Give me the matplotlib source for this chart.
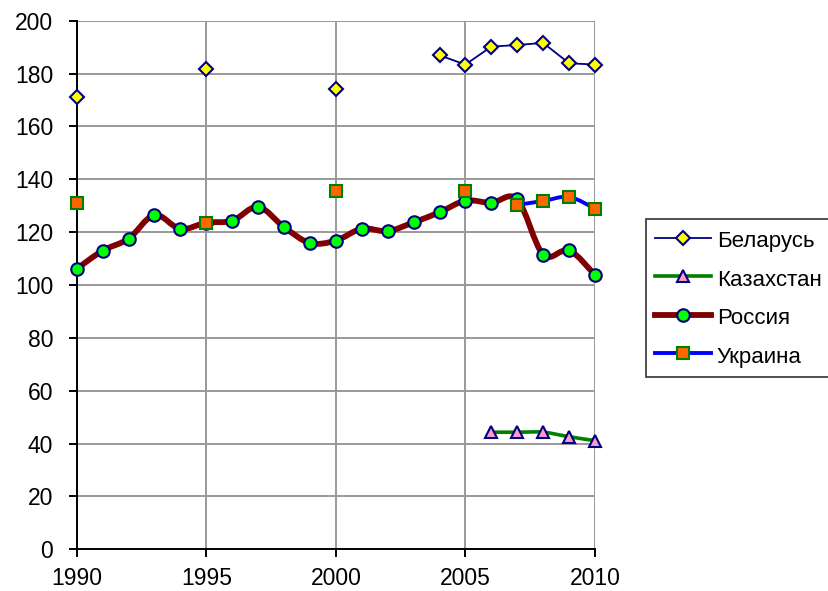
import numpy as np
import matplotlib
matplotlib.use("Agg")
import matplotlib.pyplot as plt
from matplotlib.path import Path
from matplotlib.patches import PathPatch
from matplotlib.lines import Line2D

plt.rcParams['font.family'] = ['Liberation Sans', 'DejaVu Sans']

years = list(range(1990, 2011))
nan = np.nan

belarus = [171.0, nan, nan, nan, nan, 181.6, nan, nan, nan, nan, 174.2,
           nan, nan, nan, 186.9, 183.4, 190.2, 190.8, 191.6, 183.9, 183.4]
kazakhstan = [nan] * 16 + [44.3, 44.3, 44.3, 42.6, 41.1]
russia = [106.1, 113.0, 117.5, 126.5, 121.2, 123.6, 124.3, 129.6, 121.9, 115.9, 116.8,
          121.3, 120.4, 123.7, 127.5, 131.9, 131.1, 132.4, 111.5, 113.1, 103.8]
ukraine = [131.1, nan, nan, nan, nan, 123.6, nan, nan, nan, nan, 135.7,
           nan, nan, nan, nan, 135.7, nan, 130.3, 131.8, 133.3, 128.9]

labels = ['Беларусь', 'Казахстан', 'Россия', 'Украина']
y_ticks = list(range(0, 201, 20))
x_ticks = [1990, 1995, 2000, 2005, 2010]

FS = 16.5
LFS = 16

fig = plt.figure(figsize=(8.29, 5.91), dpi=100)
ax = fig.add_axes([76.7 / 829, 1 - 549.3 / 591, (595 - 76.7) / 829, (549.3 - 20.7) / 591])


def runs(x, y):
    x = np.asarray(x, float)
    y = np.asarray(y, float)
    out, cur = [], []
    for xi, yi in zip(x, y):
        if np.isnan(yi):
            if cur:
                out.append(cur)
            cur = []
        else:
            cur.append((xi, yi))
    if cur:
        out.append(cur)
    return out


def smooth_patch(x, y, color, lw, z):
    for run in runs(x, y):
        if len(run) < 2:
            continue
        P = np.array(run)
        verts = [tuple(P[0])]
        codes = [Path.MOVETO]
        n = len(P)
        for i in range(n - 1):
            p0 = P[i - 1] if i > 0 else P[i]
            p1 = P[i]
            p2 = P[i + 1]
            p3 = P[i + 2] if i + 2 < n else P[i + 1]
            c1 = p1 + (p2 - p0) / 6.0
            c2 = p2 - (p3 - p1) / 6.0
            verts += [tuple(c1), tuple(c2), tuple(p2)]
            codes += [Path.CURVE4] * 3
        ax.add_patch(PathPatch(Path(verts, codes), fill=False, edgecolor=color,
                               lw=lw, zorder=z, capstyle='round', joinstyle='round',
                               clip_on=False))


styles = [
    dict(color='#000080', lw=1.3, marker='D', ms=7.5, mfc='#FFFF00', mec='#000080', smooth=False),
    dict(color='#008000', lw=2.6, marker='^', ms=9, mfc='#FF99CC', mec='#000080', smooth=True),
    dict(color='#800000', lw=4.2, marker='o', ms=9, mfc='#00FF00', mec='#000080', smooth=True),
    dict(color='#0000FF', lw=2.8, marker='s', ms=8.5, mfc='#FF6600', mec='#008000', smooth=True),
]
series = [belarus, kazakhstan, russia, ukraine]

handles = []
for k, (s, st, lab) in enumerate(zip(series, styles, labels)):
    z = 3 + k
    if st['smooth']:
        smooth_patch(years, s, st['color'], st['lw'], z)
    else:
        ax.plot(years, s, color=st['color'], lw=st['lw'], zorder=z, clip_on=False)
    ax.plot(years, s, ls='none', marker=st['marker'], ms=st['ms'], mfc=st['mfc'],
            mec=st['mec'], mew=1.5, zorder=z + 0.5, clip_on=False)
    handles.append(Line2D([], [], color=st['color'], lw=st['lw'], marker=st['marker'],
                          ms=st['ms'], mfc=st['mfc'], mec=st['mec'], mew=1.5))

ax.set_xlim(1990, 2010)
ax.set_ylim(0, 200)
ax.set_xticks(x_ticks)
ax.set_yticks(y_ticks)
ax.grid(True, color='#999999', lw=1.4, zorder=0)
ax.set_axisbelow(True)
for sp in ['top', 'right']:
    ax.spines[sp].set_visible(False)
for sp in ['left', 'bottom']:
    ax.spines[sp].set_color('black')
    ax.spines[sp].set_linewidth(1.4)
ax.tick_params(axis='both', direction='out', length=6, width=1.4, labelsize=FS, colors='black')
ax.tick_params(axis='y', pad=11)
ax.tick_params(axis='x', pad=7)

leg = fig.legend(handles, labels, loc='upper left', bbox_to_anchor=(646 / 829, 1 - 219 / 591),
                 bbox_transform=fig.transFigure, borderaxespad=0, frameon=True, fancybox=False,
                 edgecolor='black', fontsize=LFS, handlelength=2.5, handletextpad=0.27,
                 borderpad=0.42, labelspacing=0.66, handleheight=1.2)
leg.get_frame().set_linewidth(1.2)

fig.savefig('out.png', dpi=100)
